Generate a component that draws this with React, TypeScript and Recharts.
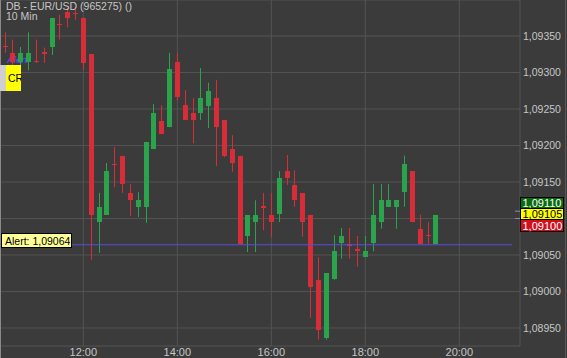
import React from 'react';
import { ComposedChart, Bar, XAxis, YAxis, CartesianGrid, ReferenceLine } from 'recharts';

// 10 minute candles, DB - EUR/USD
const times = [
  '10:20', '10:30', '10:40', '10:50', '11:00', '11:10', '11:20', '11:30', '11:40', '11:50',
  '12:00', '12:10', '12:20', '12:30', '12:40', '12:50', '13:00', '13:10', '13:20', '13:30',
  '13:40', '13:50', '14:00', '14:10', '14:20', '14:30', '14:40', '14:50', '15:00', '15:10',
  '15:20', '15:30', '15:40', '15:50', '16:00', '16:10', '16:20', '16:30', '16:40', '16:50',
  '17:00', '17:10', '17:20', '17:30', '17:40', '17:50', '18:00', '18:10', '18:20', '18:30',
  '18:40', '18:50', '19:00', '19:10', '19:20', '19:30',
];

const opens = [
  1.09336, 1.09327, 1.09314, 1.09314, 1.09316, 1.09328, 1.09335, 1.09366, 1.09383, 1.09382,
  1.09375, 1.09325, 1.09095, 1.09105, 1.09175, 1.09186, 1.09135, 1.09116, 1.09116, 1.09195,
  1.09234, 1.09225, 1.09314, 1.09255, 1.09245, 1.09245, 1.09255, 1.09265, 1.09235, 1.09195,
  1.09186, 1.09076, 1.09095, 1.09117, 1.09105, 1.09105, 1.09165, 1.09146, 1.09135, 1.09105,
  1.09016, 1.08936, 1.09016, 1.09066, 1.09065, 1.09058, 1.09047, 1.09066, 1.09095, 1.09116,
  1.09116, 1.09136, 1.09165, 1.09086, 1.09077, 1.09065,
];

const highs = [
  1.09355, 1.09345, 1.09335, 1.09355, 1.09345, 1.09334, 1.09375, 1.09379, 1.09388, 1.09390,
  1.09375, 1.09325, 1.09135, 1.09176, 1.09198, 1.09186, 1.09147, 1.09136, 1.09205, 1.09257,
  1.09255, 1.09327, 1.09327, 1.09276, 1.09265, 1.09306, 1.09286, 1.09290, 1.09235, 1.09214,
  1.09186, 1.09105, 1.09125, 1.09135, 1.09135, 1.09165, 1.09187, 1.09166, 1.09135, 1.09105,
  1.09047, 1.09025, 1.09077, 1.09087, 1.09087, 1.09076, 1.09076, 1.09147, 1.09147, 1.09147,
  1.09125, 1.09186, 1.09165, 1.09105, 1.09095, 1.09105,
];

const lows = [
  1.09327, 1.09308, 1.09306, 1.09303, 1.09313, 1.09313, 1.09324, 1.09345, 1.09362, 1.09372,
  1.09303, 1.09043, 1.09053, 1.09105, 1.09143, 1.09135, 1.09103, 1.09102, 1.09094, 1.09195,
  1.09216, 1.09225, 1.09262, 1.09235, 1.09203, 1.09235, 1.09224, 1.09172, 1.09184, 1.09164,
  1.09064, 1.09054, 1.09054, 1.09084, 1.09075, 1.09095, 1.09146, 1.09116, 1.09075, 1.08964,
  1.08934, 1.08934, 1.09016, 1.09045, 1.09045, 1.09034, 1.09047, 1.09055, 1.09086, 1.09116,
  1.09086, 1.09116, 1.09095, 1.09065, 1.09065, 1.09065,
];

const closes = [
  1.09334, 1.09314, 1.09327, 1.09327, 1.09314, 1.09325, 1.09375, 1.09364, 1.09375, 1.09380,
  1.09314, 1.09105, 1.09116, 1.09165, 1.09173, 1.09147, 1.09125, 1.09125, 1.09205, 1.09245,
  1.09216, 1.09305, 1.09266, 1.09235, 1.09235, 1.09265, 1.09275, 1.09225, 1.09186, 1.09176,
  1.09065, 1.09105, 1.09105, 1.09114, 1.09095, 1.09155, 1.09155, 1.09125, 1.09095, 1.09006,
  1.08947, 1.09025, 1.09055, 1.09076, 1.09062, 1.09055, 1.09055, 1.09105, 1.09125, 1.09125,
  1.09125, 1.09175, 1.09095, 1.09065, 1.09075, 1.09105,
];

const priceTicks = [1.0895, 1.09, 1.0905, 1.091, 1.0915, 1.092, 1.0925, 1.093, 1.0935];
const timeTicks = ['12:00', '14:00', '16:00', '18:00', '20:00'];

const alertPrice = 1.09064;
const askPrice = 1.0911;
const lastPrice = 1.09105;
const bidPrice = 1.091;

const BG = '#3b3b3b';
const GRID = '#545454';
const TEXT = '#c6c6c6';
const GREEN = '#2ba24c';
const RED = '#d72d38';
const ALERT = '#5a4de2';
const FONT = '"Liberation Sans", Arial, sans-serif';

const toMin = (s: string) => {
  const [h, m] = s.split(':').map(Number);
  return h * 60 + m;
};
const fmtTime = (v: number) => `${Math.floor(v / 60)}:${String(v % 60).padStart(2, '0')}`;
const fmtPrice = (v: number) => v.toFixed(5).replace('.', ',');

const data = times.map((t, i) => ({
  t: toMin(t),
  open: opens[i],
  high: highs[i],
  low: lows[i],
  close: closes[i],
}));

const Candle = (props: any) => {
  const { x, y, width, height, payload } = props;
  const { open, close, high, low } = payload;
  const top = Math.min(y, y + height);
  const h = Math.abs(height);
  const ratio = h / (high - low);
  const yO = top + (high - open) * ratio;
  const yC = top + (high - close) * ratio;
  const color = close >= open ? GREEN : RED;
  const cx = Math.round(x + width / 2);
  const bodyTop = Math.round(Math.min(yO, yC));
  const bodyH = Math.max(1, Math.round(Math.abs(yC - yO)));
  return (
    <g>
      <rect x={cx} y={top} width={1} height={h} fill={color} />
      <rect x={cx - 2} y={bodyTop} width={5} height={bodyH} fill={color} />
    </g>
  );
};

// the bid box hides the 1,09100 axis label, as in the terminal
const PriceTick = (props: any) => {
  const { x, y, payload } = props;
  if (Math.abs(payload.value - bidPrice) < 1e-7) return <g />;
  return (
    <text x={x + 3} y={y} dy="0.36em" fill={TEXT} fontSize={10.5} fontFamily={FONT}>
      {fmtPrice(payload.value)}
    </text>
  );
};

const TimeTick = (props: any) => {
  const { x, y, payload } = props;
  return (
    <text x={x} y={y} dy="0.72em" textAnchor="middle" fill={TEXT} fontSize={11} fontFamily={FONT}>
      {fmtTime(payload.value)}
    </text>
  );
};

const AlertLabel = (props: any) => {
  const y = Math.round(props.viewBox.y);
  return (
    <g>
      <rect x={1.5} y={y - 11.5} width={70} height={14} fill="#ffff99" stroke="#000" />
      <text x={5} y={y - 0.5} fontSize={10.5} fontFamily={FONT} fill="#000">
        {`Alert: ${fmtPrice(alertPrice)}`}
      </text>
    </g>
  );
};

const QuoteLabel = (props: any) => {
  const { x, width } = props.viewBox;
  const y = Math.round(props.viewBox.y);
  const left = x + width + 0.5;
  const boxes = [
    { v: askPrice, top: y - 18, h: 11, bg: '#0b6a10', fg: '#fff' },
    { v: lastPrice, top: y - 7, h: 11, bg: '#ffff00', fg: '#000' },
    { v: bidPrice, top: y + 4, h: 12, bg: '#cf1020', fg: '#fff' },
  ];
  return (
    <g>
      {boxes.map((b) => (
        <g key={b.v}>
          <rect x={left} y={b.top + 0.5} width={43} height={b.h} fill={b.bg} stroke="#000" />
          <text x={left + 2} y={b.top + b.h - 1} fontSize={11} fontFamily={FONT} fill={b.fg}>
            {fmtPrice(b.v)}
          </text>
        </g>
      ))}
    </g>
  );
};

export default function App() {
  return (
    <div
      style={{
        position: 'absolute',
        left: 0,
        top: 0,
        width: 567,
        height: 358,
        background: BG,
        overflow: 'hidden',
        fontFamily: FONT,
      }}
    >
      <svg width={567} height={358} style={{ position: 'absolute', left: 0, top: 0 }}>
        <text x={7} y={63} fontSize={9} fontWeight="bold" fontStyle="italic" fill="#4d4dff" fontFamily={FONT}>
          Alert
        </text>
      </svg>
      <div style={{ position: 'absolute', left: 0, top: 0 }}>
        <ComposedChart width={567} height={358} data={data} margin={{ top: 0, right: 0, bottom: 0, left: 0 }}>
          <CartesianGrid stroke={GRID} />
          <XAxis
            dataKey="t"
            type="number"
            domain={[613.6, 1277.5]}
            ticks={timeTicks.map(toMin)}
            tick={<TimeTick />}
            tickLine={false}
            axisLine={false}
            tickSize={0}
            tickMargin={2}
            height={12}
          />
          <YAxis
            orientation="right"
            type="number"
            domain={[1.089253, 1.093993]}
            ticks={priceTicks}
            tick={<PriceTick />}
            tickLine={false}
            axisLine={false}
            tickSize={0}
            tickMargin={0}
            width={47}
            allowDataOverflow
          />
          <ReferenceLine
            segment={[
              { x: 613.6, y: alertPrice },
              { x: 1267.3, y: alertPrice },
            ]}
            stroke={ALERT}
            label={<AlertLabel />}
          />
          <Bar
            dataKey={(d: any) => [d.low, d.high]}
            barSize={5}
            shape={(p: any) => <Candle {...p} />}
            isAnimationActive={false}
          />
          <ReferenceLine
            segment={[
              { x: 1271, y: askPrice },
              { x: 1277.5, y: askPrice },
            ]}
            stroke="#8f88cc"
          />
          <ReferenceLine
            segment={[
              { x: 1271, y: bidPrice },
              { x: 1277.5, y: bidPrice },
            ]}
            stroke="#8f88cc"
          />
          <ReferenceLine y={lastPrice} stroke="none" label={<QuoteLabel />} />
        </ComposedChart>
      </div>
      <svg width={567} height={358} style={{ position: 'absolute', left: 0, top: 0, pointerEvents: 'none' }}>
        <rect x={0} y={0} width={1} height={358} fill="#8a8a8a" />
        <rect x={565} y={0} width={1} height={358} fill="#575757" />
        <text x={6} y={10} fontSize={10.5} fill={TEXT} fontFamily={FONT}>
          DB - EUR/USD (965275) ()
        </text>
        <text x={6} y={20} fontSize={10.5} fill={TEXT} fontFamily={FONT}>
          10 Min
        </text>
        <rect x={0} y={65} width={6} height={26} fill="#cfcfcf" />
        <rect x={6} y={65} width={15} height={26} fill="#ffff00" />
        <svg x={6} y={65} width={15} height={26} overflow="hidden">
          <text x={2} y={17} fontSize={10.5} fill="#000" fontFamily={FONT}>
            CR
          </text>
        </svg>
      </svg>
    </div>
  );
}
